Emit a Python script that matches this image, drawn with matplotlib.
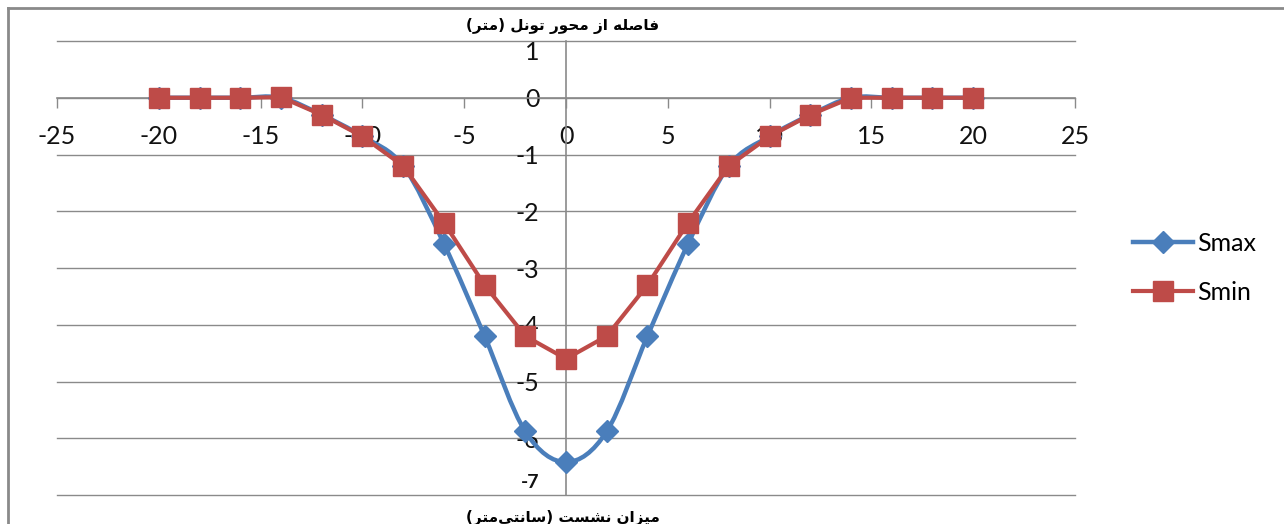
import numpy as np
import matplotlib.pyplot as plt
import matplotlib.transforms as mtransforms
from matplotlib.path import Path
from matplotlib.patches import PathPatch
from matplotlib.lines import Line2D

# distance from tunnel axis (m) and settlement (cm)
distance = [-20, -18, -16, -14, -12, -10, -8, -6, -4, -2, 0,
            2, 4, 6, 8, 10, 12, 14, 16, 18, 20]
s_max = [0, 0, 0, 0, -0.3, -0.68, -1.2, -2.57, -4.2, -5.88, -6.42,
         -5.88, -4.2, -2.57, -1.2, -0.68, -0.3, 0, 0, 0, 0]
s_min = [0, 0, 0, 0.01, -0.3, -0.68, -1.2, -2.2, -3.3, -4.2, -4.6,
         -4.2, -3.3, -2.2, -1.2, -0.68, -0.3, 0, 0, 0, 0]
x_ticks = [-25, -20, -15, -10, -5, 0, 5, 10, 15, 20, 25]
y_ticks = [1, 0, -1, -2, -3, -4, -5, -6, -7]

title_top = 'فاصله از محور تونل (متر)'
title_bottom = 'میزان نشست (سانتی\u200cمتر)'

blue = '#4A7EBB'
red = '#BE4B48'
grey = '#8A8A8A'

# matplotlib has no arabic shaping, so pick presentation forms by hand
FORMS = {
    'ا': (0xFE8D, 0xFE8E, None, None),
    'ت': (0xFE95, 0xFE96, 0xFE97, 0xFE98),
    'ح': (0xFEA1, 0xFEA2, 0xFEA3, 0xFEA4),
    'ر': (0xFEAD, 0xFEAE, None, None),
    'ز': (0xFEAF, 0xFEB0, None, None),
    'س': (0xFEB1, 0xFEB2, 0xFEB3, 0xFEB4),
    'ش': (0xFEB5, 0xFEB6, 0xFEB7, 0xFEB8),
    'ص': (0xFEB9, 0xFEBA, 0xFEBB, 0xFEBC),
    'ف': (0xFED1, 0xFED2, 0xFED3, 0xFED4),
    'ل': (0xFEDD, 0xFEDE, 0xFEDF, 0xFEE0),
    'م': (0xFEE1, 0xFEE2, 0xFEE3, 0xFEE4),
    'ن': (0xFEE5, 0xFEE6, 0xFEE7, 0xFEE8),
    'ه': (0xFEE9, 0xFEEA, 0xFEEB, 0xFEEC),
    'و': (0xFEED, 0xFEEE, None, None),
    'ی': (0xFEEF, 0xFEF0, 0xFEF3, 0xFEF4),
}


def shape(text):
    out = []
    for i, ch in enumerate(text):
        if ch == '\u200c':
            continue
        if ch not in FORMS:
            out.append(ch)
            continue
        prev = text[i - 1] if i > 0 else ''
        nxt = text[i + 1] if i + 1 < len(text) else ''
        f = FORMS[ch]
        join_prev = prev in FORMS and FORMS[prev][2] is not None
        join_next = nxt in FORMS and f[2] is not None
        if join_prev and join_next:
            out.append(chr(f[3]))
        elif join_prev:
            out.append(chr(f[1]))
        elif join_next:
            out.append(chr(f[2]))
        else:
            out.append(chr(f[0]))
    mirror = {'(': ')', ')': '('}
    return ''.join(mirror.get(c, c) for c in reversed(out))


def smooth_path(xs, ys):
    # excel-like smoothed line: catmull-rom turned into bezier segments
    pts = np.column_stack([xs, ys]).astype(float)
    verts = [pts[0]]
    codes = [Path.MOVETO]
    n = len(pts)
    for i in range(n - 1):
        p0 = pts[i - 1] if i > 0 else pts[i]
        p1, p2 = pts[i], pts[i + 1]
        p3 = pts[i + 2] if i + 2 < n else pts[i + 1]
        verts += [p1 + (p2 - p0) / 6, p2 - (p3 - p1) / 6, p2]
        codes += [Path.CURVE4] * 3
    return Path(verts, codes)


plt.rcParams['font.family'] = ['Lato', 'DejaVu Sans']

fig = plt.figure(figsize=(12.84, 5.24), dpi=100)
ax = fig.add_axes([57 / 1284, 29 / 524, 1018 / 1284, 454 / 524])

ax.set_xlim(-25, 25)
ax.set_ylim(-7, 1)
ax.set_xticks(x_ticks)
ax.set_yticks(y_ticks)
ax.set_xticklabels([str(v) for v in x_ticks])
# the end labels (1 and -7) are drawn separately below
ax.set_yticklabels(['' if v in (1, -7) else str(v) for v in y_ticks])

for s in ['top', 'right']:
    ax.spines[s].set_visible(False)
ax.spines['left'].set_position(('data', 0))
ax.spines['bottom'].set_position(('data', 0))
ax.spines['left'].set_color(grey)
ax.spines['bottom'].set_color(grey)
ax.spines['left'].set_linewidth(1.2)
ax.spines['bottom'].set_linewidth(1.2)

ax.set_axisbelow(True)
ax.yaxis.grid(True, color=grey, lw=1.0)
for gl in ax.get_ygridlines():
    gl.set_clip_on(False)
ax.tick_params(axis='x', direction='out', length=7, width=1, color=grey,
               labelsize=18, pad=12.5, labelcolor='#111111')
ax.tick_params(axis='y', length=0, labelsize=18, pad=19, labelcolor='#111111')

off_top = ax.transData + mtransforms.ScaledTranslation(-19 / 72, -11 / 100, fig.dpi_scale_trans)
ax.text(0, 1, '1', transform=off_top, ha='right', va='center',
        fontsize=18, color='#111111')
off_bot = ax.transData + mtransforms.ScaledTranslation(-19 / 72, 13 / 100, fig.dpi_scale_trans)
ax.text(0, -7, '-7', transform=off_bot, ha='right', va='center',
        fontsize=14, fontweight='bold', color='#111111')

ax.add_patch(PathPatch(smooth_path(distance, s_max), fill=False,
                       edgecolor=blue, lw=3.2, capstyle='round', zorder=3))
ax.plot(distance, s_max, ls='none', marker='D', ms=11, color=blue, zorder=4)
ax.plot(distance, s_min, color=red, lw=3.0, marker='s', ms=15, zorder=5)

handles = [Line2D([], [], color=blue, lw=3.2, marker='D', ms=11),
           Line2D([], [], color=red, lw=3.0, marker='s', ms=15)]
fig.legend(handles, ['Smax', 'Smin'], loc='center left',
           bbox_to_anchor=(1133 / 1284, 1 - 268 / 524), frameon=False,
           fontsize=18, handlelength=2.4, handletextpad=0.15,
           labelspacing=1.05, borderpad=0, borderaxespad=0)

fig.text(563 / 1284, 1 - 26 / 524, shape(title_top), ha='center', va='center',
         family=['DejaVu Sans'], fontweight='bold', fontsize=11)
fig.text(563 / 1284, 1 - 517 / 524, shape(title_bottom), ha='center', va='center',
         family=['DejaVu Sans'], fontweight='bold', fontsize=11)

# chart frame, cut off on the right and bottom
fig.add_artist(Line2D([7.5 / 1284, 7.5 / 1284], [0, 1 - 8 / 524],
                      transform=fig.transFigure, color=grey, lw=2))
fig.add_artist(Line2D([7.5 / 1284, 1], [1 - 8 / 524, 1 - 8 / 524],
                      transform=fig.transFigure, color=grey, lw=2))

fig.savefig('out.png', dpi=100)
